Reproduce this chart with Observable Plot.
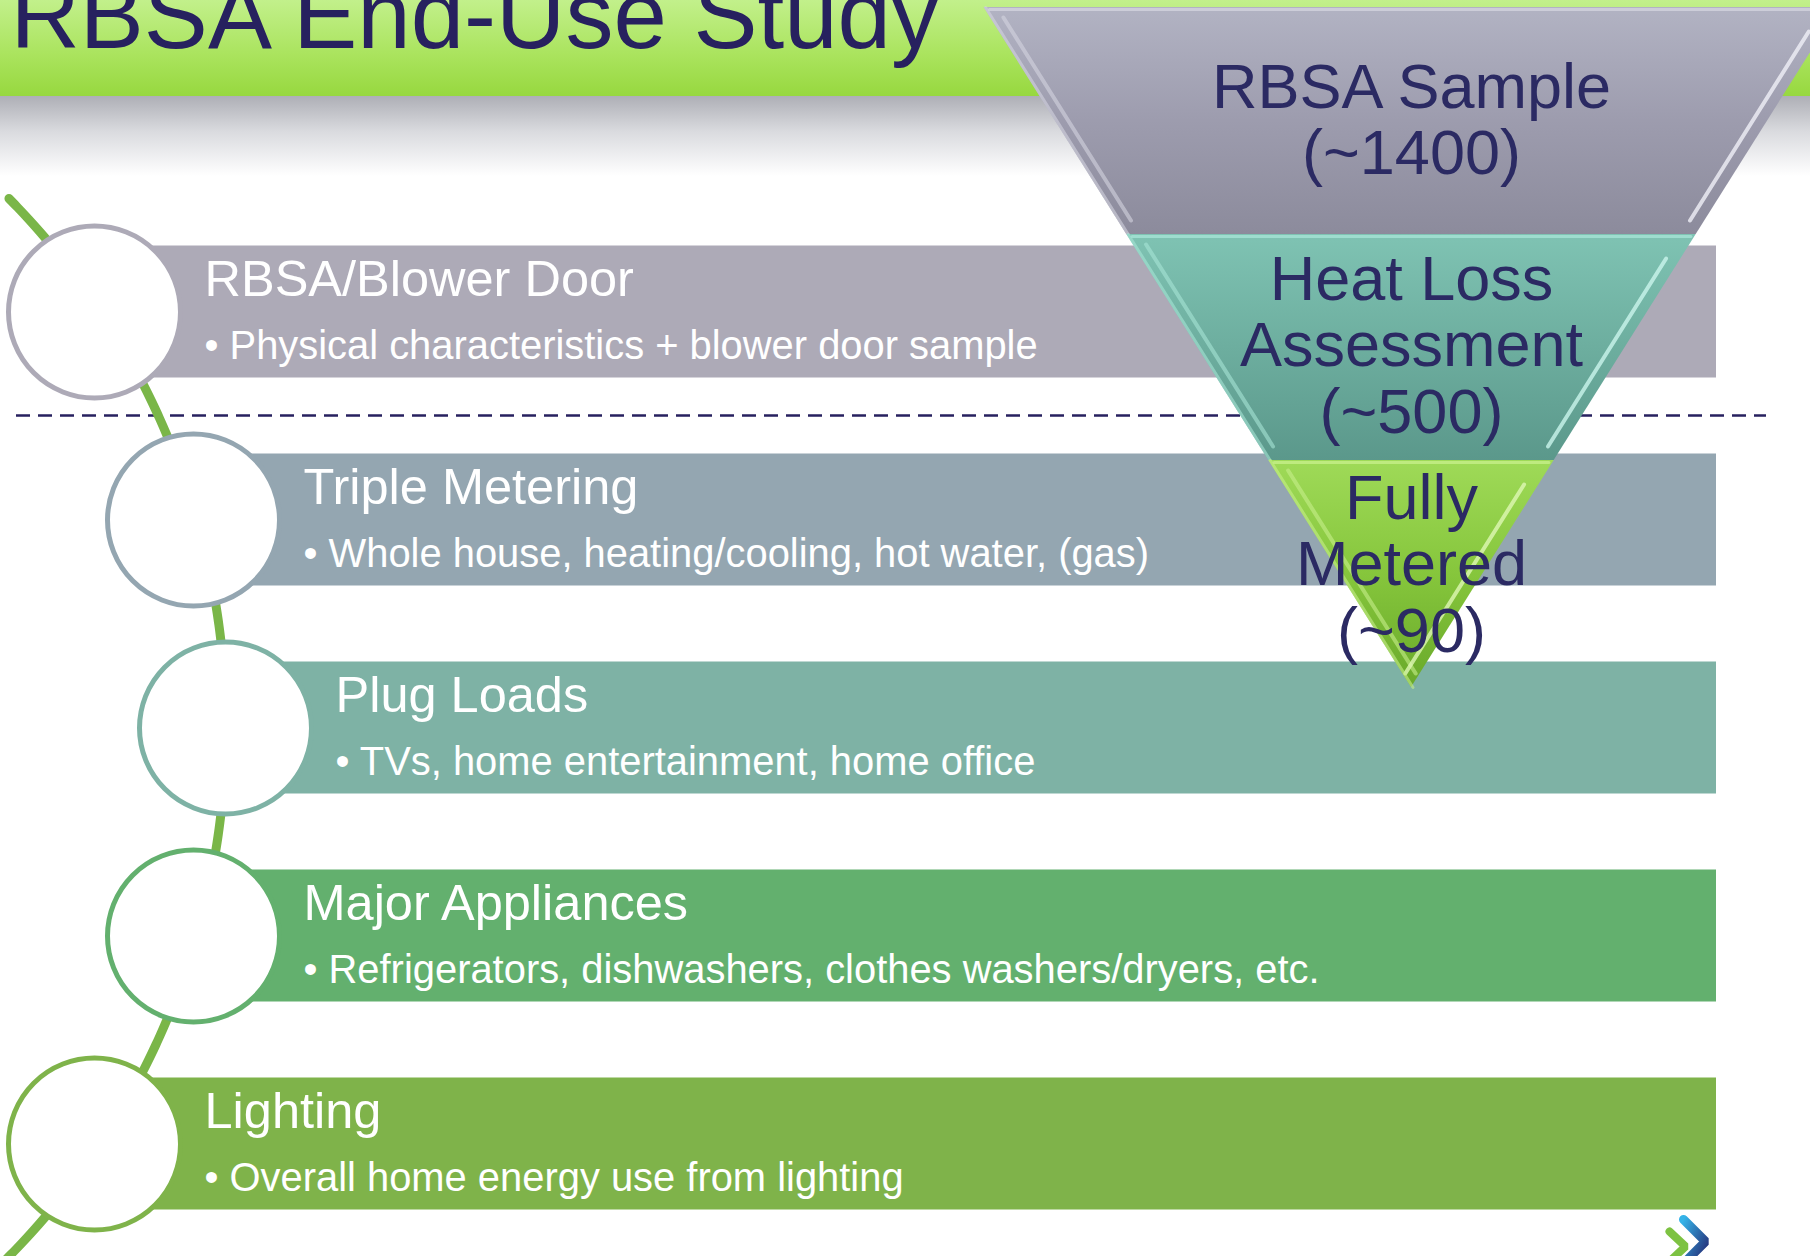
<!DOCTYPE html>
<html>
<head>
<meta charset="utf-8">
<script src="https://cdn.jsdelivr.net/npm/d3@7"></script>
<script src="https://cdn.jsdelivr.net/npm/@observablehq/plot@0.6"></script>
<style>
  html, body { margin: 0; padding: 0; background: #fff; overflow: hidden; }
  #chart svg { display: block; }
</style>
</head>
<body>
<div id="chart"></div>
<script>
// ---------------- data ----------------
const title = "RBSA End-Use Study";
const stages = ["RBSA/Blower Door", "Triple Metering", "Plug Loads", "Major Appliances", "Lighting"];
const details = [
  "Physical characteristics + blower door sample",
  "Whole house, heating/cooling, hot water, (gas)",
  "TVs, home entertainment, home office",
  "Refrigerators, dishwashers, clothes washers/dryers, etc.",
  "Overall home energy use from lighting"
];
const funnelStages = ["RBSA Sample", "Heat Loss\nAssessment", "Fully\nMetered"];
const funnelCounts = [1400, 500, 90];

// ---------------- styles ----------------
const stageColors = ["#adaab7", "#94a6b1", "#7eb2a5", "#63b06e", "#7fb34a"];
const funnelGrad = [["#b2b3c3", "#9d9cae", "#8c8b9c"], ["#7fc3b3", "#6dae9f", "#5b988b"], ["#9fda58", "#86c63c", "#69a92a"]];
const bevelLeft = ["#d3d3df", "#a6e4d6", "#c6ef8a"];
const bevelRight = ["#f0f0f7", "#caf5ec", "#def8b4"];
const navy = "#27215f";
const connectorColor = "#7ab648";
const font = "'Liberation Sans', Arial, Helvetica, sans-serif";

// ---------------- layout ----------------
const W = 1810, H = 1256;
const hdrH = 96, shadowH = 80;
const rowY0 = 311.5, rowStep = 208, bandH = 132, bandRight = 1716;
const circleX = [94, 193, 225, 193, 94];
const circleR = 86, textDx = 110;
const dashY = 415;
const fApex = 687, fCx = 1411, fSlope = 0.6285;
const fBounds = [7, 234, 460, 687];
const fFirstBase = [107, 299, 518], fLineStep = 66.5;
// connector arc (SmartArt curved list)
const arcCx = -528, arcCy = 727, arcR = 753.4;

const rows = stages.map((s, i) => ({
  stage: s, detail: "\u2022 " + details[i], color: stageColors[i],
  cx: circleX[i], cy: rowY0 + rowStep * i
}));

const fHalf = y => fSlope * (fApex - y);
const segs = funnelStages.map((s, i) => ({
  i, y1: fBounds[i], y2: fBounds[i + 1],
  lines: [...s.split("\n"), `(~${funnelCounts[i]})`]
}));

const arcPts = d3.range(198, 1266, 3).map(y => ({y, x: arcCx + Math.sqrt(arcR * arcR - (y - arcCy) ** 2)}));

const funnelMarks = [];
segs.forEach(s => {
  const pts = [s.y1, s.y2].map(y => ({y, x1: fCx - fHalf(y), x2: fCx + fHalf(y)}));
  funnelMarks.push(Plot.areaX(pts, {y: "y", x1: "x1", x2: "x2", fill: `url(#fg${s.i})`}));
  const ya = s.y1 + 10, yb = s.y2 - 14;
  const inset = 13;
  funnelMarks.push(Plot.line([ya, yb].map(y => ({y, x: fCx - fHalf(y) + inset})),
    {x: "x", y: "y", stroke: bevelLeft[s.i], strokeWidth: 4, strokeOpacity: 0.6, strokeLinecap: "round"}));
  funnelMarks.push(Plot.line([ya + 14, yb].map(y => ({y, x: fCx + fHalf(y) - inset - 2})),
    {x: "x", y: "y", stroke: bevelRight[s.i], strokeWidth: 4, strokeOpacity: 0.8, strokeLinecap: "round"}));
  funnelMarks.push(Plot.line([s.y1 + 2, s.y1 + 2].map((y, k) => ({y, x: k ? fCx + fHalf(y) - 4 : fCx - fHalf(y) + 4})),
    {x: "x", y: "y", stroke: bevelLeft[s.i], strokeWidth: 3, strokeOpacity: 0.8}));
  // outer rim
  funnelMarks.push(Plot.line([s.y1, s.y2].map(y => ({y, x: fCx - fHalf(y) + 1.5})),
    {x: "x", y: "y", stroke: bevelLeft[s.i], strokeWidth: 3, strokeOpacity: 0.6}));
});

const funnelText = segs.flatMap(s => s.lines.map((t, k) => ({t, seg: s.i, y: fFirstBase[s.i] + k * fLineStep})));

const chart = Plot.plot({
  width: W, height: H, margin: 0,
  x: {domain: [0, W], range: [0, W], axis: null},
  y: {domain: [0, H], range: [0, H], axis: null},
  color: {type: "identity"},
  style: {fontFamily: font, background: "#fff"},
  marks: [
    Plot.rect([0], {x1: 0, x2: W, y1: 0, y2: hdrH, fill: "url(#hdr)"}),
    Plot.rect([0], {x1: 0, x2: W, y1: hdrH, y2: hdrH + shadowH, fill: "url(#shadow)"}),
    Plot.text([title], {x: 10, y: 47, text: d => d, fontSize: 96, fill: navy, textAnchor: "start", lineAnchor: "bottom"}),
    Plot.rect(rows, {x1: "cx", x2: bandRight, y1: d => d.cy - bandH / 2, y2: d => d.cy + bandH / 2, fill: "color"}),
    Plot.ruleY([dashY], {x1: 16, x2: 1766, stroke: navy, strokeWidth: 2.5, strokeDasharray: "14,8"}),
    Plot.line(arcPts, {x: "x", y: "y", stroke: connectorColor, strokeWidth: 9, strokeLinecap: "round"}),
    Plot.dot(rows, {x: "cx", y: "cy", r: circleR, fill: "white", stroke: "color", strokeWidth: 5}),
    Plot.text(rows, {x: d => d.cx + textDx, y: d => d.cy - 16, text: "stage", fontSize: 50.5, fill: "white", textAnchor: "start", lineAnchor: "bottom"}),
    Plot.text(rows, {x: d => d.cx + textDx, y: d => d.cy + 47, text: "detail", fontSize: 39.9, fill: "white", textAnchor: "start", lineAnchor: "bottom"}),
    ...funnelMarks,
    Plot.text(funnelText.filter(d => d.seg < 2), {x: fCx, y: "y", text: "t", fontSize: 63, fill: "#2b2a63", textAnchor: "middle", lineAnchor: "bottom"}),
    Plot.text(funnelText.filter(d => d.seg === 2), {x: fCx, y: "y", text: "t", fontSize: 63, fill: "#2b2a63", textAnchor: "middle", lineAnchor: "bottom", ariaLabel: "funnel-glow"}),
    Plot.line([{x: 1669, y: 1231}, {x: 1685, y: 1246}, {x: 1669, y: 1261}], {x: "x", y: "y", stroke: "#7dc242", strokeWidth: 8, strokeLinejoin: "miter"}),
    Plot.line([{x: 1683, y: 1219}, {x: 1705, y: 1241}, {x: 1683, y: 1263}], {x: "x", y: "y", stroke: "url(#logo)", strokeWidth: 9, strokeLinejoin: "miter"})
  ]
});

const svg = d3.select(chart);
const defs = svg.insert("defs", ":first-child");
function vgrad(id, stops) {
  const g = defs.append("linearGradient").attr("id", id).attr("x1", 0).attr("y1", 0).attr("x2", 0).attr("y2", 1);
  stops.forEach(([o, c]) => g.append("stop").attr("offset", o).attr("stop-color", c));
}
vgrad("hdr", [[0, "#c2f08b"], [0.55, "#abe45f"], [1, "#97d83f"]]);
vgrad("shadow", [[0, "#aeafb6"], [0.45, "#dadbdf"], [1, "#ffffff"]]);
funnelGrad.forEach((c, i) => vgrad(`fg${i}`, [[0, c[0]], [0.5, c[1]], [1, c[2]]]));
const lg = defs.append("linearGradient").attr("id", "logo").attr("x1", 0).attr("y1", 0).attr("x2", 1).attr("y2", 1);
lg.append("stop").attr("offset", 0).attr("stop-color", "#35b3e8");
lg.append("stop").attr("offset", 1).attr("stop-color", "#23236e");
svg.selectAll('g[aria-label="funnel-glow"]').style("filter", "drop-shadow(1px 2px 3px rgba(20,20,30,0.8))");

document.getElementById("chart").appendChild(chart);
</script>
</body>
</html>
